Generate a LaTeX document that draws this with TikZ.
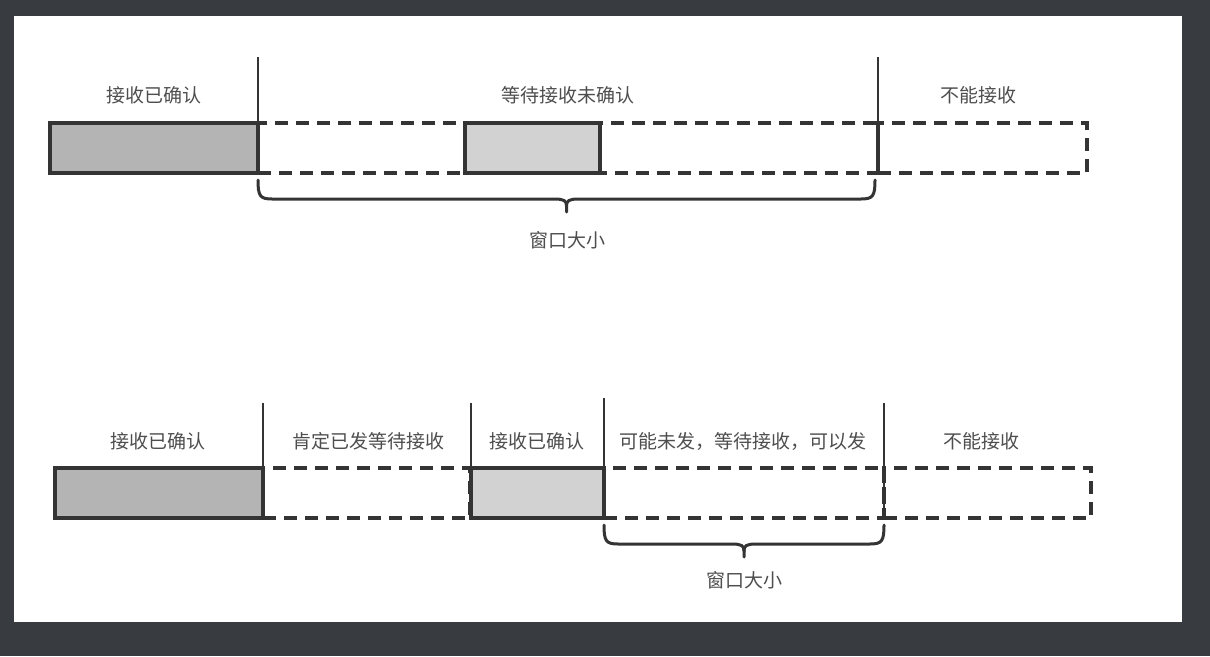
\documentclass[tikz,border=0pt]{standalone}
\usepackage{fontspec}
\setmainfont{Noto Sans CJK SC}
\usetikzlibrary{positioning,calc}
\definecolor{pagebg}{RGB}{56,59,64}
\definecolor{inkline}{RGB}{52,52,52}
\definecolor{acked}{RGB}{180,180,180}
\definecolor{ackedlt}{RGB}{210,210,210}
\definecolor{txtgrey}{RGB}{78,78,78}
\newcommand{\winbrace}[3]{% left x, right x, top y
  \draw[brc] (#1,#3) .. controls (#1,#3+16) and (#1+2,#3+19) .. (#1+14,#3+19)
    -- ({(#1+#2)/2-12},#3+19) .. controls ({(#1+#2)/2-2},#3+19) and ({(#1+#2)/2},#3+21) .. ({(#1+#2)/2},#3+26)
    -- ({(#1+#2)/2},#3+32);
  \draw[brc] ({(#1+#2)/2},#3+26) .. controls ({(#1+#2)/2},#3+21) and ({(#1+#2)/2+2},#3+19) .. ({(#1+#2)/2+12},#3+19)
    -- (#2-14,#3+19) .. controls (#2-2,#3+19) and (#2,#3+16) .. (#2,#3);
}
\tikzset{
  seg/.style={draw=inkline,line width=3.2pt,minimum height=50pt,inner sep=0pt,
              outer sep=0pt,anchor=north west},
  segd/.style={seg,dash pattern=on 13pt off 8pt},
  segf/.style={seg,fill=acked},
  segl/.style={seg,fill=ackedlt},
  sep/.style={draw=inkline,line width=2.6pt},
  lbl/.style={font=\fontsize{19}{21}\selectfont,text=txtgrey,inner sep=1pt},
  brc/.style={draw=inkline,line width=3pt,line cap=round},
}

\begin{document}
\begin{tikzpicture}[x=1pt,y=-1pt]
  \fill[pagebg] (0,0) rectangle (1210,656);
  \useasboundingbox (0,0) rectangle (1210,656);
  \fill[white] (14,16) rectangle (1182,622);

  % receiver side
  \node[segd,minimum width=620pt] (w1) at (258,123) {};
  \node[segd,minimum width=209pt] (n1) at (878,123) {};
  \node[segf,minimum width=208pt] (a1) at (50,123) {};
  \node[segl,minimum width=135pt] (l1) at (465,123) {};
  \coordinate (t1) at (258,57);
  \coordinate (t2) at (878,57);
  \draw[sep] (t1) -- (t1 |- a1.south);
  \draw[sep] (t2) -- (t2 |- a1.south);

  \node[lbl] (la1) at (154,95) {接收已确认};
  \node[lbl] (lw1) at (568,95) {等待接收未确认};
  \node[lbl] (ln1) at (978,95) {不能接收};

  \winbrace{258}{875}{180}
  \node[lbl] (sz1) at (567,240) {窗口大小};

  % sender side
  \node[segd,minimum width=207pt] (d2) at (263,468) {};
  \node[segd,minimum width=280pt] (w2) at (604,468) {};
  \node[segd,minimum width=207pt] (n2) at (884,468) {};
  \node[segf,minimum width=208pt] (a2) at (55,468) {};
  \node[segl,minimum width=133pt] (l2) at (471,468) {};
  \coordinate (t3) at (263,403);
  \coordinate (t4) at (471,403);
  \coordinate (t5) at (604,398);
  \coordinate (t6) at (884,403);
  \foreach \t in {t3,t4,t5,t6}
    \draw[sep] (\t) -- (\t |- a2.south);

  \node[lbl] (la2) at (158,441) {接收已确认};
  \node[lbl] (ld2) at (368,441) {肯定已发等待接收};
  \node[lbl] (ll2) at (537,441) {接收已确认};
  \node[lbl] (lw2) at (743,441) {可能未发，等待接收，可以发};
  \node[lbl] (ln2) at (981,441) {不能接收};

  \winbrace{604}{884}{525}
  \node[lbl] (sz2) at (744,580) {窗口大小};
\end{tikzpicture}
\end{document}
